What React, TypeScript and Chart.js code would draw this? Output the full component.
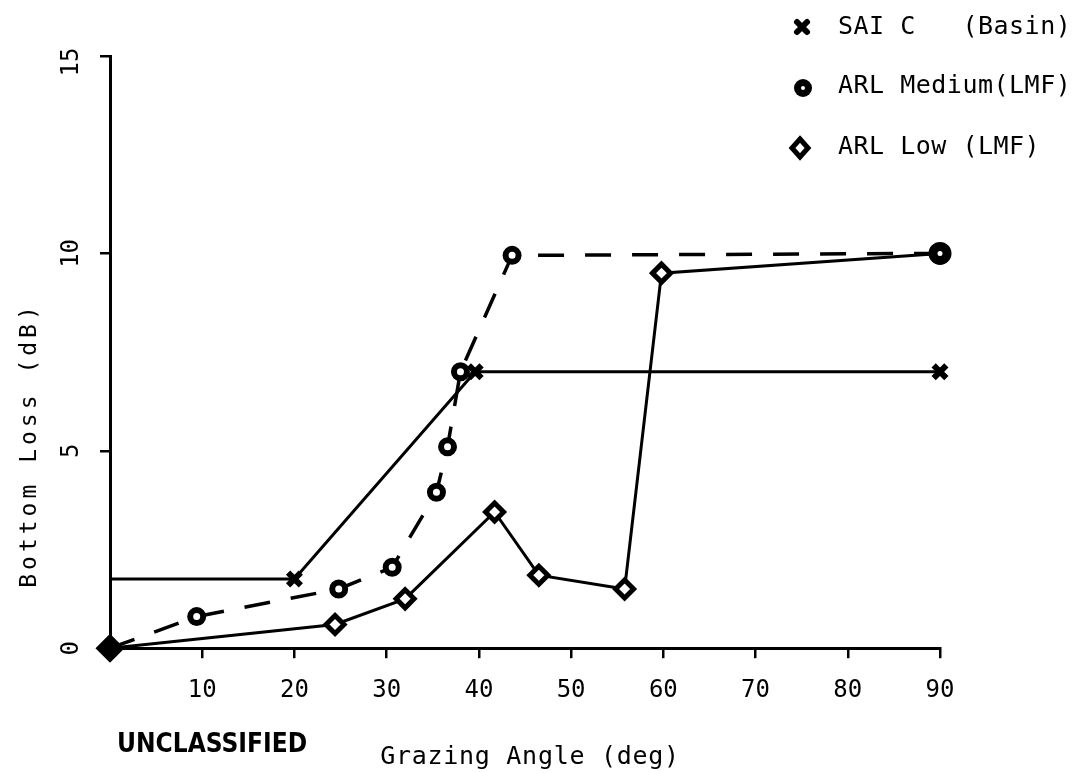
import { useEffect, useRef } from 'react';
import { Chart, registerables } from 'chart.js';

Chart.register(...registerables);

const FONT = '"DejaVu Sans Mono", "Liberation Mono", monospace';

// Axis ticks
const angleTicks = [0, 10, 20, 30, 40, 50, 60, 70, 80, 90];
const lossTicks = [0, 5, 10, 15];

// SAI C (Basin)
const saiAngles = [0, 20, 39.6, 90];
const saiLoss = [1.75, 1.75, 7.0, 7.0];

// ARL Medium (LMF)
const medAngles = [0, 9.4, 24.8, 30.6, 35.4, 36.6, 38.0, 43.6, 90];
const medLoss = [0, 0.8, 1.5, 2.05, 3.95, 5.1, 7.0, 9.95, 10.0];

// ARL Low (LMF)
const lowAngles = [0, 24.4, 32.0, 41.7, 46.5, 55.8, 59.8, 90];
const lowLoss = [0, 0.6, 1.25, 3.45, 1.85, 1.5, 9.5, 10.0];

const legendLabels = ['SAI C   (Basin)', 'ARL Medium(LMF)', 'ARL Low (LMF)'];
const xTitle = 'Grazing Angle (deg)';
const yTitle = 'Bottom Loss (dB)';
const stamp = 'UNCLASSIFIED';

const pts = (xs: number[], ys: number[]) => xs.map((x, i) => ({ x, y: ys[i] }));

const drawCross = (ctx: CanvasRenderingContext2D, x: number, y: number, r: number) => {
  ctx.save();
  ctx.lineWidth = 6;
  ctx.lineCap = 'round';
  ctx.strokeStyle = '#000';
  ctx.beginPath();
  ctx.moveTo(x - r, y - r);
  ctx.lineTo(x + r, y + r);
  ctx.moveTo(x + r, y - r);
  ctx.lineTo(x - r, y + r);
  ctx.stroke();
  ctx.beginPath();
  ctx.arc(x, y, 4, 0, Math.PI * 2);
  ctx.fillStyle = '#000';
  ctx.fill();
  ctx.restore();
};

const decorPlugin = {
  id: 'decor',
  afterDraw(chart: any) {
    const ctx: CanvasRenderingContext2D = chart.ctx;
    const yScale = chart.scales.y;
    ctx.save();
    ctx.fillStyle = '#000';

    // rotated y tick labels
    ctx.font = `24px ${FONT}`;
    ctx.textAlign = 'center';
    ctx.textBaseline = 'middle';
    for (const v of lossTicks) {
      const py = yScale.getPixelForValue(v);
      ctx.save();
      ctx.translate(72, py + (v === 15 ? 6 : 0));
      ctx.rotate(-Math.PI / 2);
      ctx.fillText(String(v), 0, 0);
      ctx.restore();
    }

    // y title
    ctx.save();
    ctx.font = `23px ${FONT}`;
    (ctx as any).letterSpacing = '4px';
    ctx.translate(30, 445);
    ctx.rotate(-Math.PI / 2);
    ctx.fillText(yTitle, 0, 0);
    ctx.restore();

    // x title
    ctx.save();
    ctx.font = `25px ${FONT}`;
    (ctx as any).letterSpacing = '0.7px';
    ctx.fillText(xTitle, 530, 757);
    ctx.restore();

    // classification stamp
    ctx.save();
    ctx.font = `bold 26px "DejaVu Sans Condensed", "DejaVu Sans", sans-serif`;
    ctx.textAlign = 'left';
    ctx.fillText(stamp, 117, 745);
    ctx.restore();

    // legend
    ctx.font = `25px ${FONT}`;
    ctx.textAlign = 'left';
    (ctx as any).letterSpacing = '0.5px';
    const rows = [27, 86, 147];
    rows.forEach((ry, i) => ctx.fillText(legendLabels[i], 838, ry));
    (ctx as any).letterSpacing = '0px';
    drawCross(ctx, 802, 27, 5);
    ctx.beginPath();
    ctx.arc(803, 88, 9, 0, Math.PI * 2);
    ctx.fill();
    ctx.fillStyle = '#fff';
    ctx.beginPath();
    ctx.arc(803, 88, 2, 0, Math.PI * 2);
    ctx.fill();
    ctx.strokeStyle = '#000';
    ctx.lineWidth = 5;
    ctx.beginPath();
    ctx.moveTo(800, 139);
    ctx.lineTo(808, 148);
    ctx.lineTo(800, 157);
    ctx.lineTo(792, 148);
    ctx.closePath();
    ctx.stroke();
    ctx.restore();
  },
};

export default function App() {
  const ref = useRef<HTMLCanvasElement | null>(null);

  useEffect(() => {
    if (!ref.current) return;
    const chart = new Chart(ref.current, {
      type: 'line',
      data: {
        datasets: [
          {
            label: legendLabels[0],
            data: pts(saiAngles, saiLoss),
            borderColor: '#000',
            borderWidth: 3,
            pointStyle: 'crossRot',
            pointRadius: saiAngles.map((_, i) => (i === 0 ? 0 : 9)),
            pointBorderWidth: 6,
            pointBorderColor: '#000',
            pointBackgroundColor: '#000',
            tension: 0,
            clip: false,
          },
          {
            label: legendLabels[1],
            data: pts(medAngles, medLoss),
            borderColor: '#000',
            borderWidth: 3.5,
            borderDash: [26, 21],
            pointStyle: 'circle',
            pointRadius: medAngles.map((_, i) => (i === 0 ? 0 : i === medAngles.length - 1 ? 7 : 6.5)),
            pointBorderWidth: medAngles.map((_, i) => (i === medAngles.length - 1 ? 9 : 6)),
            pointBorderColor: '#000',
            pointBackgroundColor: '#fff',
            tension: 0,
            clip: false,
          },
          {
            label: legendLabels[2],
            data: pts(lowAngles, lowLoss),
            borderColor: '#000',
            borderWidth: 3,
            pointStyle: 'rectRot',
            pointRadius: lowAngles.map((_, i) => (i === 0 ? 11 : i === lowAngles.length - 1 ? 0 : 9)),
            pointBorderWidth: 5,
            pointBorderColor: '#000',
            pointBackgroundColor: lowAngles.map((_, i) => (i === 0 ? '#000' : '#fff')),
            tension: 0,
            clip: false,
          },
        ],
      },
      options: {
        responsive: false,
        animation: false,
        devicePixelRatio: 1,
        layout: {
          autoPadding: false,
          padding: { left: 100, right: 141, top: 56, bottom: 50 },
        },
        plugins: {
          legend: { display: false },
          tooltip: { enabled: false },
        },
        scales: {
          x: {
            type: 'linear',
            min: 0,
            max: 90,
            afterBuildTicks: (s: any) => {
              s.ticks = angleTicks.map((v) => ({ value: v }));
            },
            ticks: {
              callback: (v: any) => (v === 0 ? '' : String(v)),
              color: '#000',
              font: { family: FONT, size: 24 },
              padding: 18,
              maxRotation: 0,
              autoSkip: false,
            },
            grid: {
              drawOnChartArea: false,
              drawTicks: true,
              tickLength: 10,
              lineWidth: 2.5,
              color: '#000',
            },
            border: { display: true, color: '#000', width: 3 },
          },
          y: {
            type: 'linear',
            min: 0,
            max: 15,
            afterBuildTicks: (s: any) => {
              s.ticks = lossTicks.map((v) => ({ value: v }));
            },
            ticks: { display: false },
            grid: {
              drawOnChartArea: false,
              drawTicks: true,
              tickLength: 10,
              lineWidth: 2.5,
              color: '#000',
            },
            border: { display: true, color: '#000', width: 3 },
          },
        },
      },
      plugins: [decorPlugin],
    });
    return () => chart.destroy();
  }, []);

  return (
    <div style={{ position: 'fixed', left: 0, top: 0, width: 1081, height: 773, background: '#fff' }}>
      <canvas ref={ref} width={1081} height={773} />
    </div>
  );
}
